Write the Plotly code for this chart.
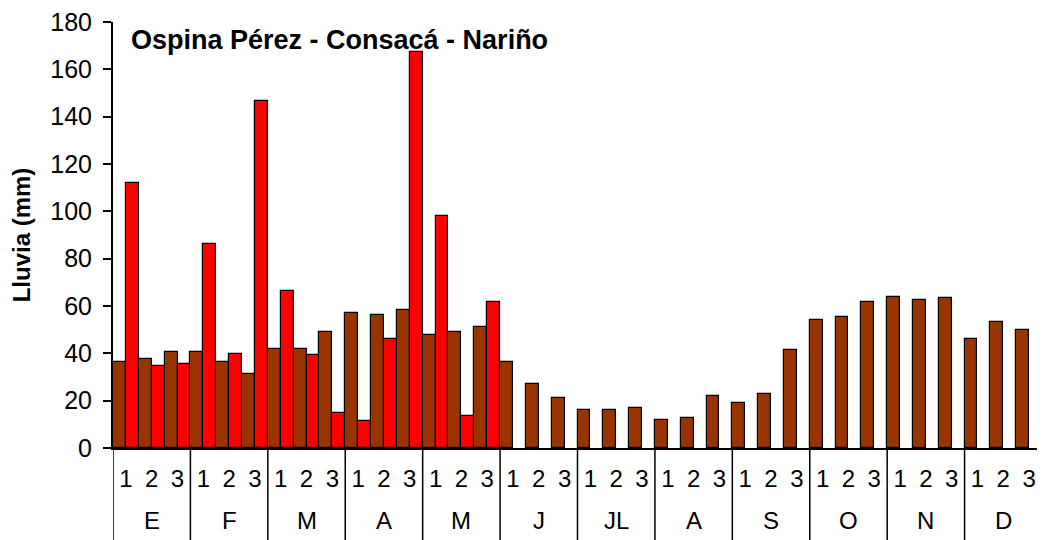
import plotly.graph_objects as go

months = ["E", "F", "M", "A", "M", "J", "JL", "A", "S", "O", "N", "D"]
dekads = ["1", "2", "3"]

historico = [36.4, 37.7, 40.6, 40.6, 36.3, 31.3, 41.9, 41.9, 49.0, 56.9, 56.3, 58.4,
             47.7, 49.0, 51.1, 36.2, 27.0, 21.3, 16.2, 16.2, 16.9, 12.0, 12.7, 21.9,
             19.0, 22.7, 41.2, 54.0, 55.4, 61.8, 63.9, 62.5, 63.2, 46.1, 53.3, 49.8]
actual = [111.9, 34.7, 35.4, 86.1, 39.8, 146.7, 66.2, 39.1, 14.8, 11.2, 46.1, 167.3,
          98.2, 13.4, 61.8] + [None] * 21

n_dek = len(dekads)
pos = list(range(len(months) * n_dek))
tick_text = [d for _ in months for d in dekads]

FONT = "Liberation Sans, Arial, sans-serif"
PLOT_H = 426  # plot-area height in px, used to place labels below the axis

fig = go.Figure()
fig.add_trace(go.Bar(x=pos, y=historico, name="Histórico",
                     marker=dict(color="#993300", line=dict(color="black", width=1.2))))
fig.add_trace(go.Bar(x=pos, y=actual, name="Actual",
                     marker=dict(color="#FF0000", line=dict(color="black", width=1.2))))

shapes = []
for i in range(len(months) + 1):
    shapes.append(dict(type="line", xref="x", yref="paper",
                       x0=i * n_dek - 0.5, x1=i * n_dek - 0.5,
                       y0=0, y1=-92 / PLOT_H,
                       line=dict(color="black", width=1.5)))

annotations = [dict(
    text="<b>Ospina Pérez - Consacá - Nariño</b>",
    xref="paper", yref="paper", x=16 / 929, y=1 - 18 / PLOT_H,
    xanchor="left", yanchor="middle", showarrow=False,
    font=dict(size=27, family=FONT),
)]
for i, m in enumerate(months):
    annotations.append(dict(
        text=m, xref="x", yref="paper", x=i * n_dek + 1, y=-72 / PLOT_H,
        xanchor="center", yanchor="middle", showarrow=False,
        font=dict(size=24, family=FONT),
    ))

fig.update_layout(
    template="none",
    width=1037, height=532,
    margin=dict(l=105, r=3, t=14, b=92, autoexpand=False),
    plot_bgcolor="white", paper_bgcolor="white",
    barmode="group", bargap=0, bargroupgap=0,
    showlegend=False,
    font=dict(family=FONT, size=24, color="black"),
    xaxis=dict(
        automargin=False,
        range=[-0.5, len(pos) - 0.5],
        tickmode="array", tickvals=pos, ticktext=tick_text,
        showline=True, linecolor="black", linewidth=2,
        ticks="", tickfont=dict(size=24),
        ticklabelstandoff=8, ticklabeloverflow="allow",
        showgrid=False, zeroline=False,
    ),
    yaxis=dict(
        automargin=False,
        range=[0, 180], dtick=20,
        showline=True, linecolor="black", linewidth=2,
        ticks="outside", ticklen=8, tickwidth=1.5, tickcolor="black",
        showgrid=False, zeroline=False,
        tickfont=dict(size=25),
        ticklabelstandoff=6, ticklabeloverflow="allow",
        title=dict(text="<b>Lluvia (mm)</b>", font=dict(size=24), standoff=14),
    ),
    shapes=shapes,
    annotations=annotations,
)

fig.write_html("out.html")
